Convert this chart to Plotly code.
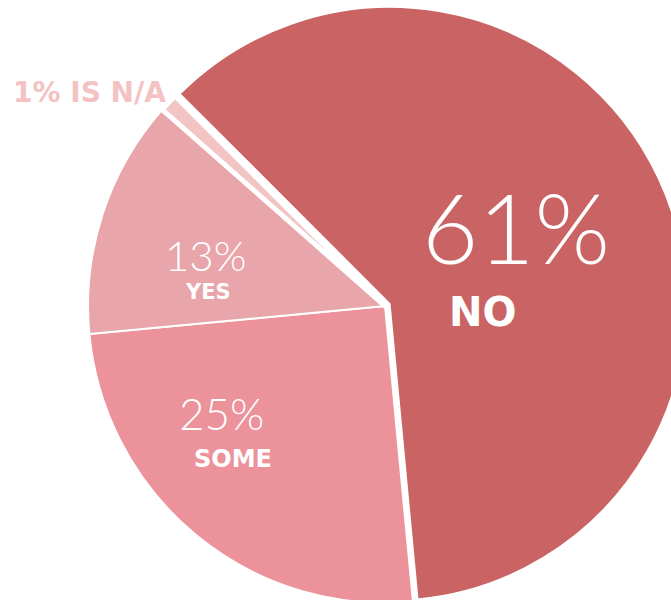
import plotly.graph_objects as go

# Survey answers and their shares (percent)
answers = ["NO", "SOME", "YES", "N/A"]
shares = [61, 25, 13, 1]
slice_colors = ["#ca6464", "#eb929b", "#e8a6aa", "#f3c4c4"]

W, H = 700, 612          # canvas is a bit wider/taller than the view so the pie can bleed off the edge
CX, CY = 385, 306        # pie centre in pixels (from top-left)
HALF = 302               # half of the pie domain size in pixels

fig = go.Figure(
    go.Pie(
        labels=answers,
        values=shares,
        sort=False,
        direction="clockwise",
        rotation=-45,
        pull=[0.017, 0, 0, 0],
        marker=dict(colors=slice_colors, line=dict(color="white", width=[2, 2, 2, 5])),
        textinfo="none",
        hoverinfo="skip",
        domain=dict(
            x=[(CX - HALF) / W, (CX + HALF) / W],
            y=[1 - (CY + HALF) / H, 1 - (CY - HALF) / H],
        ),
    )
)


def px(x, y):
    return x / W, 1 - y / H


def add_text(x, y, text, size, weight, color="white", family="Lato"):
    ax, ay = px(x, y)
    fig.add_annotation(
        x=ax, y=ay, xref="paper", yref="paper", text=text, showarrow=False,
        xanchor="center", yanchor="middle",
        font=dict(family=family, size=size, color=color, weight=weight),
    )


BOLD = "DejaVu Sans"
share = dict(zip(answers, shares))
# percentage (light) and answer name (bold) inside each large slice
add_text(516, 226, f"{share['NO']}%", 97, 300)
add_text(483, 312, "NO", 40, 700, family=BOLD)
add_text(205, 255, f"{share['YES']}%", 42, 300)
add_text(208, 292, "YES", 21, 700, family=BOLD)
add_text(222, 413, f"{share['SOME']}%", 44, 300)
add_text(233, 459, "SOME", 24, 700, family=BOLD)
# the tiny slice is labelled outside the pie
add_text(90, 92, f"{share['N/A']}% IS N/A", 28, 700, color="#f4c2c2", family=BOLD)

fig.update_layout(
    width=W, height=H,
    margin=dict(l=0, r=0, t=0, b=0),
    showlegend=False,
    paper_bgcolor="white",
    plot_bgcolor="white",
)

fig.write_html(
    "out.html",
    post_script=(
        "document.body.style.margin='0';"
        "document.body.style.overflow='hidden';"
        "document.documentElement.style.overflow='hidden';"
    ),
)
